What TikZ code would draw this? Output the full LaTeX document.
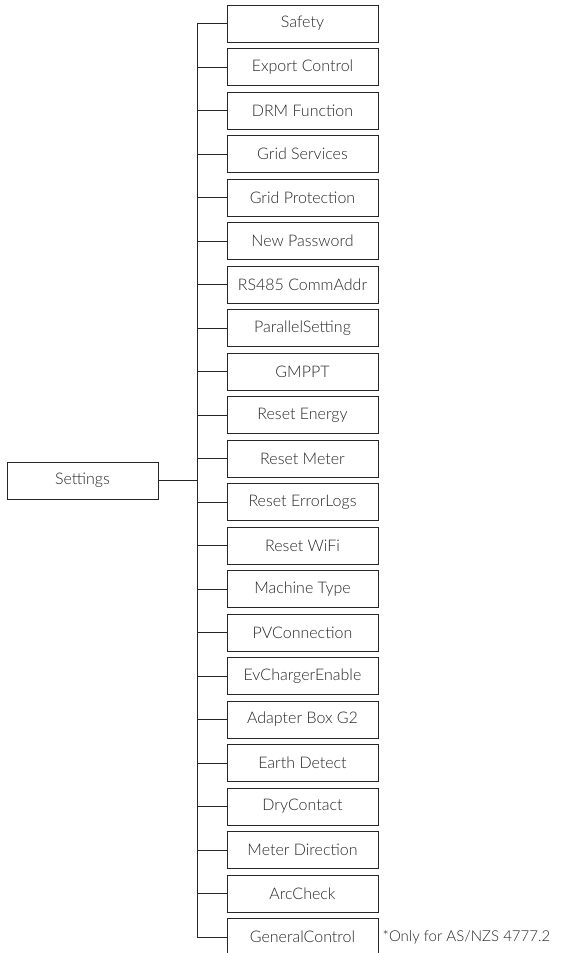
\documentclass[tikz,border=0pt]{standalone}
\usepackage{fontspec}
\setmainfont{Lato}[UprightFont=* Light]
\usetikzlibrary{positioning}

\begin{document}
\begin{tikzpicture}[x=1pt,y=-1pt,font=\fontsize{16}{18}\selectfont,
  item/.style={draw=black!85, line width=0.9pt, text=black!85, minimum width=151pt, minimum height=37pt, inner sep=0pt},
  link/.style={draw=black!85, line width=0.9pt}]
\useasboundingbox (0,0) rectangle (561,953);
\node[item] (settings) at (82.5,480.5) {Settings};
\coordinate (trunk) at (197,480.5);

\foreach \name [count=\i from 0] in {Safety,Export Control,DRM Function,Grid Services,Grid Protection,New Password,RS485 CommAddr,ParallelSetting,GMPPT,Reset Energy,Reset Meter,Reset ErrorLogs,Reset WiFi,Machine Type,PVConnection,EvChargerEnable,Adapter Box G2,Earth Detect,DryContact,Meter Direction,ArcCheck,GeneralControl} {
  \node[item] (m\i) at (302.5,23.5+43.5*\i) {\name};
  \draw[link] (m\i.west) -- (m\i.west -| trunk);
}
\draw[link] (m0.west -| trunk) -- (m21.west -| trunk);
\draw[link] (settings.east) -- (trunk);

\node[anchor=west,inner sep=0pt,text=black!85,font=\fontsize{15}{17}\selectfont] (note) at ([xshift=4pt]m21.east) {*Only for AS/NZS 4777.2};
\end{tikzpicture}
\end{document}
